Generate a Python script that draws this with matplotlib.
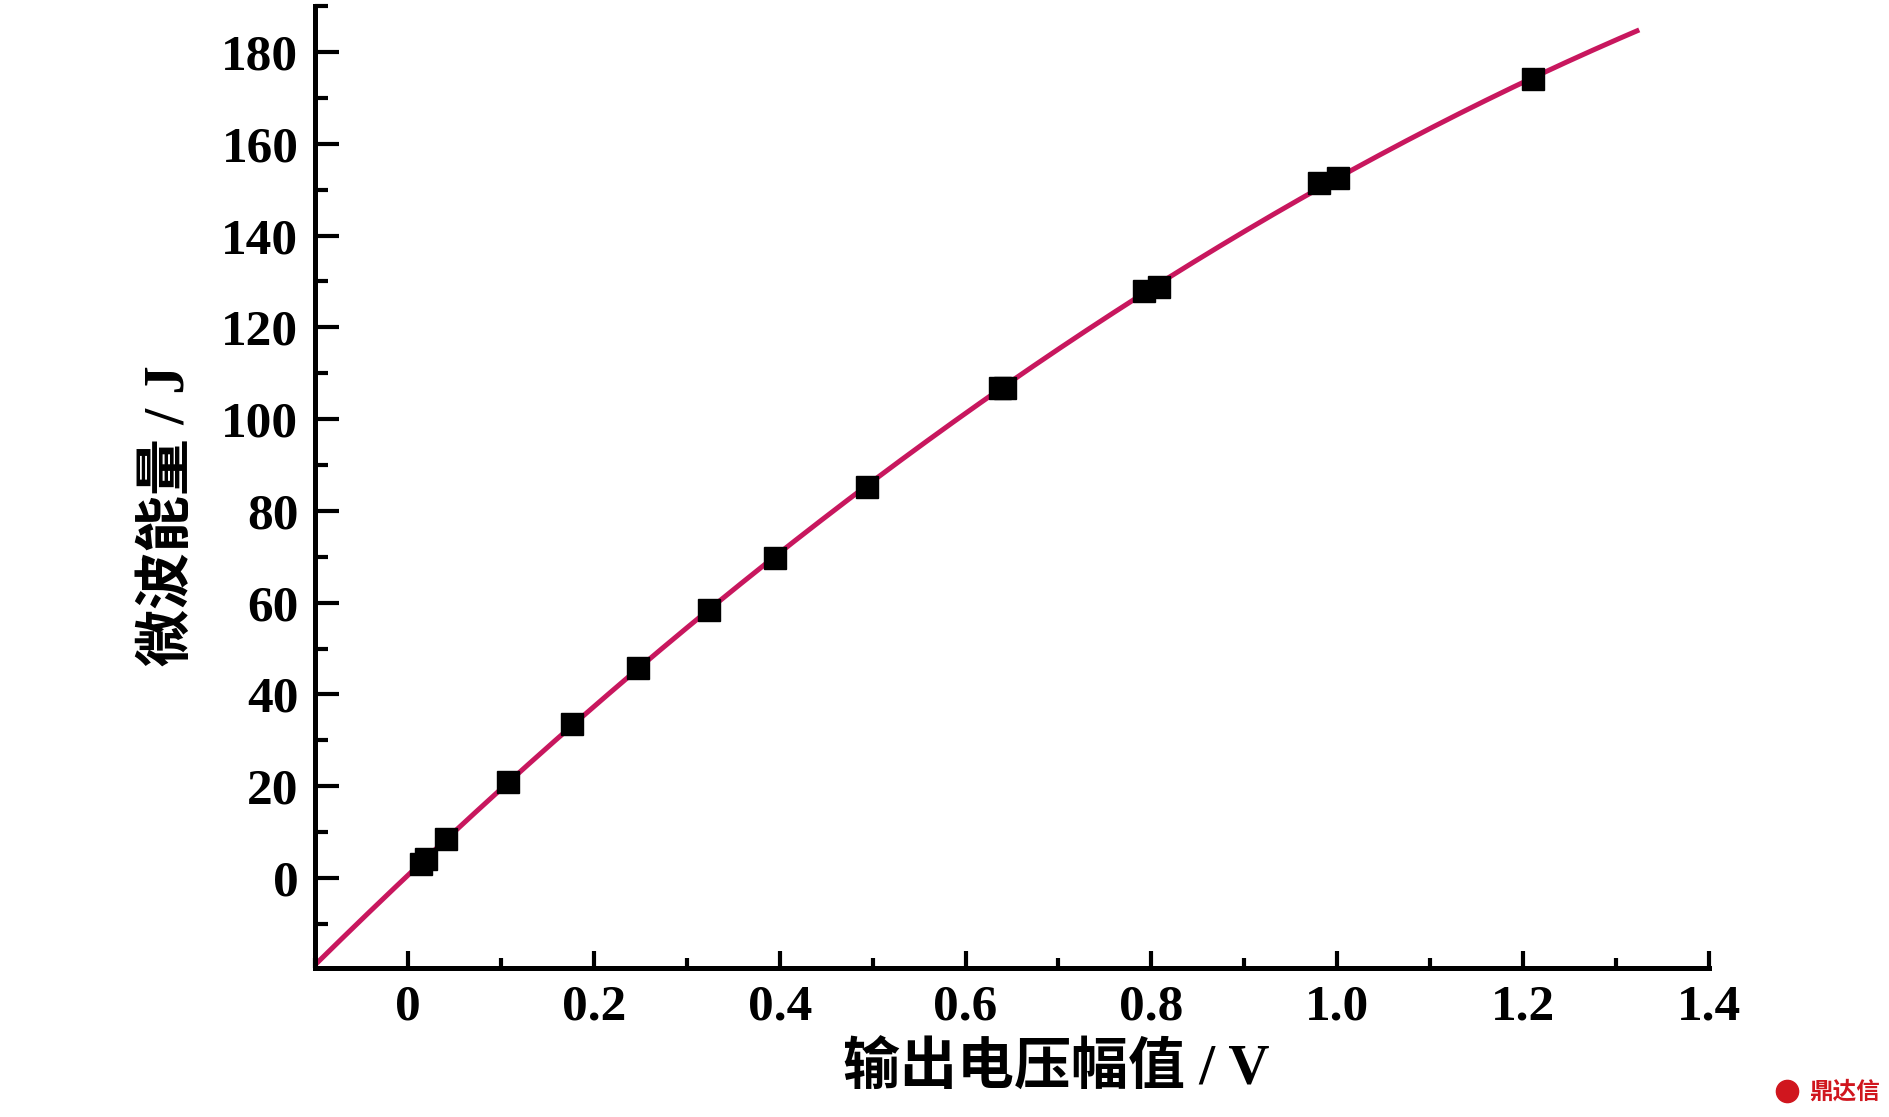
import numpy as np
import matplotlib
matplotlib.use("Agg")
import matplotlib.pyplot as plt
from matplotlib.ticker import MultipleLocator
from matplotlib.lines import Line2D

voltage = [0.014, 0.019, 0.041, 0.108, 0.176, 0.248, 0.324, 0.395, 0.494,
           0.637, 0.642, 0.792, 0.808, 0.980, 1.001, 1.211]
energy = [3.1, 4.2, 8.4, 21.0, 33.6, 45.7, 58.5, 69.8, 85.3,
          106.8, 106.8, 127.8, 128.8, 151.4, 152.5, 174.0]

fit_range = (-0.1, 1.325)
x_ticks = [0, 0.2, 0.4, 0.6, 0.8, 1.0, 1.2, 1.4]
x_tick_labels = ["0", "0.2", "0.4", "0.6", "0.8", "1.0", "1.2", "1.4"]
y_ticks = [0, 20, 40, 60, 80, 100, 120, 140, 160, 180]

serif = "Liberation Serif"
fam = [serif, "Noto Sans CJK SC", "DejaVu Sans"]
red = "#D0161E"

fig = plt.figure(figsize=(18.9, 11.17), dpi=100)
ax = fig.add_axes([0.1667, 0.1334, 0.7375, 0.8612])

# quadratic fit curve
coef = np.polyfit(voltage, energy, 2)
xf = np.linspace(fit_range[0], fit_range[1], 200)
ax.plot(xf, np.polyval(coef, xf), color="#C8175E", lw=3.6, zorder=2,
        solid_capstyle="butt")
ax.plot(voltage, energy, ls="none", marker="s", ms=16, color="black",
        mec="black", zorder=3)

ax.set_xlim(-0.1, 1.4)
ax.set_ylim(-19.6, 190)
ax.set_xticks(x_ticks)
ax.set_xticklabels(x_tick_labels)
ax.set_yticks(y_ticks)
ax.xaxis.set_minor_locator(MultipleLocator(0.1))
ax.yaxis.set_minor_locator(MultipleLocator(10))

for s in ("top", "right"):
    ax.spines[s].set_visible(False)
for s in ("left", "bottom"):
    ax.spines[s].set_linewidth(3.6)

ax.tick_params(axis="y", which="major", direction="in", length=17, width=3, pad=12)
ax.tick_params(axis="y", which="minor", direction="in", length=9, width=3)
ax.tick_params(axis="x", which="major", direction="in", length=12.5, width=3, pad=12)
ax.tick_params(axis="x", which="minor", direction="in", length=7, width=3)

for lab in ax.get_xticklabels() + ax.get_yticklabels():
    lab.set_family(serif)
    lab.set_fontweight("bold")
    lab.set_fontsize(37)

ax.set_xlabel("输出电压幅值 / V", family=fam, fontweight="bold", fontsize=41,
              va="center")
ax.set_ylabel("微波能量 / J", family=fam, fontweight="bold", fontsize=41,
              va="center")
ax.xaxis.set_label_coords(0.5316, -0.106)
ax.yaxis.set_label_coords(-0.1047, 0.47)

# watermark
fig.text(0.995, 0.012, "鼎达信", color=red, family=fam,
         fontweight="bold", fontsize=17, ha="right", va="bottom")
fig.add_artist(Line2D([0.9455], [0.0235], transform=fig.transFigure,
                      marker="o", ms=16, color=red, ls="none"))

fig.savefig("out.png", dpi=100)
